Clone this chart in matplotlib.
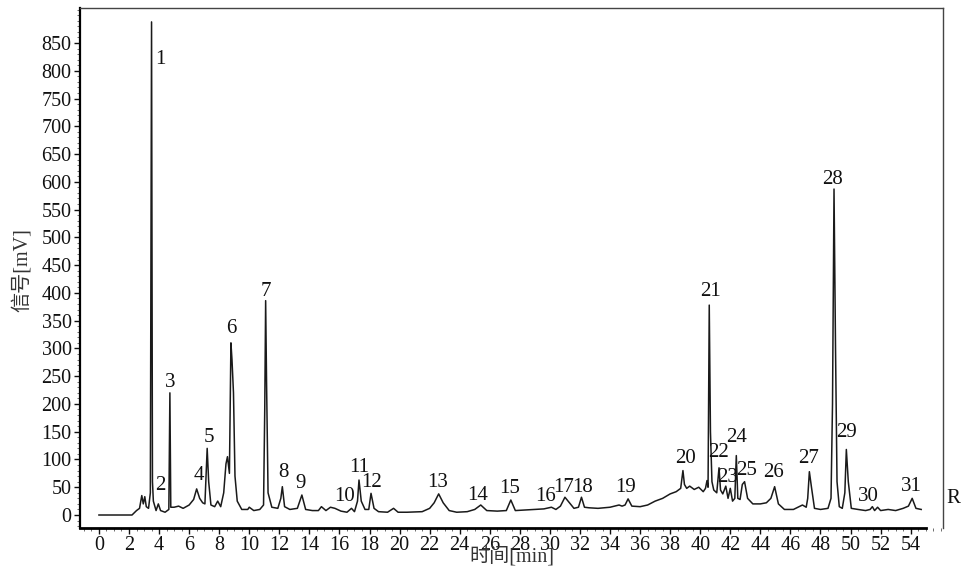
import matplotlib
matplotlib.use("Agg")
import matplotlib.pyplot as plt
from matplotlib.ticker import MultipleLocator

plt.rcParams['font.family'] = ['Liberation Serif', 'Noto Sans CJK SC']

# chromatogram trace (time [min], signal [mV])
time_min = [0.0, 2.2, 2.5, 2.7, 2.85, 2.95, 3.05, 3.15, 3.3, 3.42, 3.5, 3.56,
            3.62, 3.8, 3.95, 4.1, 4.4, 4.65, 4.72, 4.78, 5.0, 5.3, 5.6, 6.0,
            6.3, 6.5, 6.7, 6.9, 7.05, 7.2, 7.3, 7.45, 7.7, 7.9, 8.1, 8.3,
            8.45, 8.55, 8.68, 8.78, 8.85, 8.95, 9.05, 9.2, 9.5, 9.9, 10.0,
            10.3, 10.7, 10.95, 11.03, 11.09, 11.15, 11.25, 11.5, 11.9, 12.1,
            12.2, 12.35, 12.7, 13.2, 13.5, 13.75, 14.2, 14.6, 14.8, 15.1,
            15.4, 15.7, 16.1, 16.5, 16.8, 17.0, 17.2, 17.3, 17.45, 17.7,
            17.95, 18.1, 18.3, 18.6, 19.2, 19.6, 19.9, 20.5, 21.5, 22.0,
            22.3, 22.6, 22.9, 23.3, 23.8, 24.5, 25.0, 25.4, 25.8, 26.5, 27.1,
            27.4, 27.7, 28.3, 29.0, 29.6, 30.1, 30.4, 30.7, 31.0, 31.3, 31.6,
            31.9, 32.1, 32.3, 32.6, 33.2, 34.0, 34.6, 34.8, 35.0, 35.2, 35.45,
            36.0, 36.5, 37.0, 37.5, 38.0, 38.4, 38.7, 38.85, 38.95, 39.1,
            39.3, 39.6, 39.9, 40.2, 40.35, 40.45, 40.52, 40.6, 40.68, 40.78,
            40.9, 41.1, 41.25, 41.35, 41.5, 41.7, 41.85, 42.0, 42.15, 42.3,
            42.4, 42.5, 42.65, 42.8, 42.95, 43.15, 43.5, 44.0, 44.4, 44.7,
            44.95, 45.2, 45.6, 46.2, 46.8, 47.05, 47.15, 47.26, 47.4, 47.6,
            48.0, 48.5, 48.7, 48.8, 48.9, 49.0, 49.1, 49.25, 49.45, 49.62,
            49.72, 49.85, 50.05, 50.5, 51.0, 51.3, 51.45, 51.6, 51.8, 52.0,
            52.5, 53.0, 53.5, 53.85, 54.1, 54.35, 54.7]
signal_mv = [0, 0, 8, 12, 35, 20, 33, 15, 12, 40, 888, 60,
             25, 8, 20, 8, 5, 10, 220, 14, 14, 16, 12, 18,
             28, 47, 30, 22, 20, 120, 60, 18, 15, 25, 15, 40,
             92, 105, 75, 310, 280, 220, 70, 25, 10, 10, 14,
             8, 10, 18, 190, 386, 240, 40, 14, 12, 30,
             51, 15, 10, 12, 36, 10, 8, 8, 15, 8,
             14, 12, 7, 5, 12, 6, 25, 63, 25, 10,
             10, 39, 12, 6, 5, 12, 5, 5, 6, 12,
             22, 38, 22, 8, 5, 6, 10, 18, 8, 7, 8,
             27, 8, 9, 10, 11, 14, 10, 16, 32, 22, 12,
             14, 32, 14, 13, 12, 14, 18, 16, 18, 29, 16,
             15, 18, 25, 30, 38, 42, 48, 80, 55, 48,
             52, 46, 50, 42, 48, 62, 50, 378, 150, 60,
             45, 40, 85, 45, 38, 52, 30, 48, 25, 30,
             107, 30, 28, 55, 60, 30, 20, 20, 22, 30,
             51, 20, 10, 10, 18, 14, 30, 78, 50, 12,
             10, 12, 30, 200, 587, 300, 60, 15, 12, 40,
             118, 60, 12, 10, 8, 10, 15, 8, 14, 8,
             10, 8, 12, 16, 30, 12, 10]

# peak labels (text, time, signal at label centre)
peak_names = ['1', '2', '3', '4', '5', '6', '7', '8', '9', '10', '11', '12',
              '13', '14', '15', '16', '17', '18', '19', '20', '21', '22', '23',
              '24', '25', '26', '27', '28', '29', '30', '31']
label_t = [4.1, 4.06, 4.72, 6.65, 7.32, 8.78, 11.1, 12.3, 13.44, 16.37, 17.3,
           18.16, 22.5, 25.2, 27.35, 29.7, 30.9, 32.2, 35.06, 39.0, 40.65,
           41.2, 41.85, 42.45, 43.1, 44.85, 47.2, 48.83, 49.76, 51.16, 54.02]
label_v = [820, 54, 238, 72, 140, 335, 403, 76, 56, 34, 86, 59, 58, 36, 47,
           34, 50, 49, 50, 101, 402, 112, 67, 139, 81, 77, 101, 605, 148, 34, 52]

x_ticks = list(range(0, 55, 2))
y_ticks = list(range(0, 851, 50))

fig = plt.figure(figsize=(9.73, 5.70), dpi=100)
ax = fig.add_axes([80 / 973, 1 - 528 / 570, 863 / 973, 520 / 570])

ax.plot(time_min, signal_mv, color='#1a1a1a', lw=1.1)

ax.set_xlim(-1.26, 56.15)
ax.set_ylim(-23.4, 913)
ax.set_xticks(x_ticks)
ax.set_yticks(y_ticks)
ax.xaxis.set_minor_locator(MultipleLocator(0.5))
ax.yaxis.set_minor_locator(MultipleLocator(10))
ax.tick_params(axis='both', which='major', direction='out', length=4,
               width=1, labelsize=14.5, colors='#111111', pad=2)
ax.tick_params(axis='both', which='minor', direction='out', length=2,
               width=0.6, colors='#555555')

ax.spines['bottom'].set_bounds(-1.26, 55.0)
ax.spines['bottom'].set_linewidth(2.0)
ax.spines['left'].set_linewidth(1.6)
ax.spines['top'].set_linewidth(1.0)
ax.spines['right'].set_linewidth(1.0)
for s in ['top', 'right']:
    ax.spines[s].set_color('#444444')

for name, t, v in zip(peak_names, label_t, label_v):
    ax.text(t, v, name, fontsize=15, ha='center', va='center', color='#111111')

ax.text(56.4, 29, 'R', fontsize=15, ha='left', va='center', color='#111111',
        clip_on=False)

fig.text(22 / 973, 1 - 270 / 570, '信号[mV]', rotation=90, fontsize=14.5,
         ha='center', va='center', color='#333333')
fig.text(512 / 973, 1 - 557 / 570, '时间[min]', fontsize=14.5,
         ha='center', va='center', color='#333333')

fig.savefig('out.png', dpi=100)
